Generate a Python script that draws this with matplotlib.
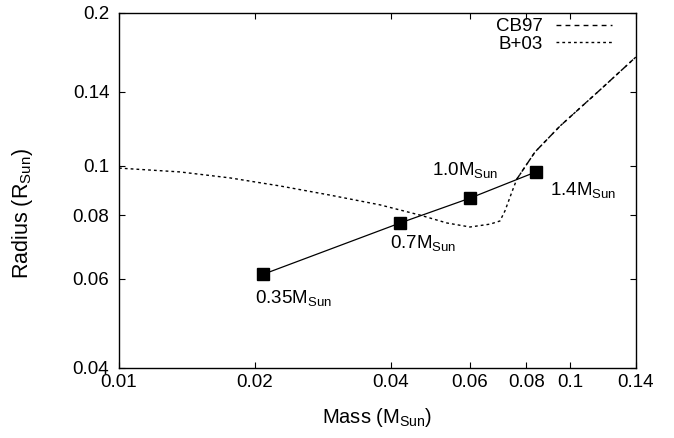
import numpy as np
import matplotlib.pyplot as plt
from matplotlib.ticker import FixedLocator, NullLocator

# CB97 track (dashed)
cb97_mass = [0.0762, 0.0836, 0.0950, 0.1165, 0.140]
cb97_radius = [0.0942, 0.1065, 0.1198, 0.1411, 0.1639]

# B+03 track (dotted)
b03_mass = [0.0100, 0.01365, 0.01762, 0.02275, 0.02935, 0.0379, 0.0465, 0.0533,
            0.0600, 0.0665, 0.0699, 0.0717, 0.0743, 0.0762, 0.0836, 0.0950, 0.1165, 0.140]
b03_radius = [0.0990, 0.0973, 0.0947, 0.0913, 0.0876, 0.0838, 0.0800, 0.0772,
              0.0758, 0.0768, 0.0779, 0.0815, 0.0888, 0.0942, 0.1065, 0.1198, 0.1411, 0.1639]

# marked points
pts_mass = [0.0209, 0.0420, 0.0600, 0.0840]
pts_radius = [0.0612, 0.0772, 0.0864, 0.0973]
pts_labels = ['0.35', '0.7', '1.0', '1.4']
label_offsets = [(-5.8, -21), (-7.2, -18), (-27.5, 16.6), (10, -16.6)]  # points

xticks = [0.01, 0.02, 0.04, 0.06, 0.08, 0.1, 0.14]
xticklabels = ['0.01', '0.02', '0.04', '0.06', '0.08', '0.1', '0.14']
yticks = [0.04, 0.06, 0.08, 0.1, 0.14, 0.2]
yticklabels = ['0.04', '0.06', '0.08', '0.1', '0.14', '0.2']

plt.rcParams['font.family'] = ['Liberation Sans', 'DejaVu Sans']
plt.rcParams['mathtext.fontset'] = 'custom'
plt.rcParams['mathtext.rm'] = 'Liberation Sans'
fs = 13.5

fig = plt.figure(figsize=(6.74, 4.38), dpi=100)
ax = fig.add_axes([119/674, 70/438, 517/674, 355/438])

ax.plot(cb97_mass, cb97_radius, color='black', lw=1.0, linestyle=(0, (3.5, 3)), label='CB97')
ax.plot(b03_mass, b03_radius, color='black', lw=1.0, linestyle=(0, (2, 2.2)), label='B+03')
ax.plot(pts_mass, pts_radius, color='black', lw=0.9, marker='s', markersize=8.5)

for m, r, t, off in zip(pts_mass, pts_radius, pts_labels, label_offsets):
    ax.annotate(t + r'$\mathregular{M_{Sun}}$', (m, r), xytext=off, textcoords='offset points',
                ha='left', va='baseline', fontsize=fs)

ax.set_xscale('log')
ax.set_yscale('log')
ax.set_xlim(0.01, 0.14)
ax.set_ylim(0.04, 0.2)
ax.xaxis.set_major_locator(FixedLocator(xticks))
ax.xaxis.set_minor_locator(NullLocator())
ax.set_xticklabels(xticklabels)
ax.yaxis.set_major_locator(FixedLocator(yticks))
ax.yaxis.set_minor_locator(NullLocator())
ax.set_yticklabels(yticklabels)

ax.tick_params(which='both', direction='in', top=True, right=True, length=4.5, width=0.8,
               labelsize=fs)
ax.tick_params(axis='x', pad=4)
ax.tick_params(axis='y', pad=7)
for s in ax.spines.values():
    s.set_linewidth(1.0)

ax.set_xlabel(r'Mass (M$\mathregular{_{Sun}}$)', fontsize=14.5)
ax.xaxis.set_label_coords(0.5, -0.108)
ax.set_ylabel(r'Radius (R$\mathregular{_{Sun}}$)', fontsize=15.5)
ax.yaxis.set_label_coords(-0.163, 0.434)

ax.legend(loc='upper right', bbox_to_anchor=(0.9536, 0.985), frameon=False, markerfirst=False,
          fontsize=fs, handlelength=3.0, handletextpad=0.7, labelspacing=0.0,
          borderaxespad=0, borderpad=0)

plt.savefig('out.png', dpi=100)
